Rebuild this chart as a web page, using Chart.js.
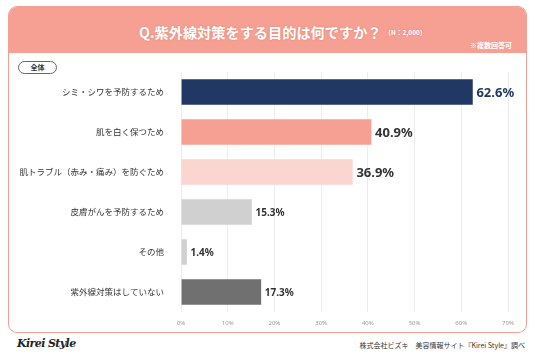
<!DOCTYPE html>
<html><head><meta charset="utf-8">
<script src="https://cdn.jsdelivr.net/npm/chart.js@4/dist/chart.umd.min.js"></script>
<style>
html,body{margin:0;padding:0;background:#fff;}
body{width:536px;height:357px;position:relative;overflow:hidden;font-family:"Noto Sans CJK JP","Noto Sans",sans-serif;}
#frame{position:absolute;left:8px;top:6px;width:517px;height:325px;border:1.5px solid #f4a093;border-radius:9px;overflow:hidden;}
#head{position:absolute;left:0;top:0;right:0;height:46px;background:#f6a093;}
#title{position:absolute;left:130px;top:15px;color:#fff;font-weight:bold;font-size:14.2px;line-height:20px;text-shadow:0 0 2px rgba(180,80,60,0.35);white-space:nowrap;}
#title span{font-size:6.5px;font-weight:bold;margin-left:3px;vertical-align:3px;}
#multi{position:absolute;right:14px;top:33px;color:#fff;font-size:7px;font-weight:bold;}
#pill{position:absolute;left:18px;top:61px;width:37px;height:11px;border:1px solid #666;border-radius:7px;text-align:center;font-size:7px;font-weight:bold;line-height:11px;color:#333;}
#logo{position:absolute;left:17px;top:337px;font-family:"DejaVu Serif",serif;font-style:italic;font-weight:bold;font-size:11px;color:#222;letter-spacing:-0.6px;}
#src{position:absolute;right:11px;top:340px;font-size:7px;color:#333;}
canvas{position:absolute;left:0;top:0;}
</style></head><body>
<div id="frame"><div id="head"><div id="title">Q.紫外線対策をする目的は何ですか？<span>（N：2,000）</span></div><div id="multi">※複数回答可</div></div></div>
<div id="pill">全体</div>
<div id="logo">Kirei Style</div>
<div id="src">株式会社ビズキ　美容情報サイト『Kirei Style』調べ</div>
<canvas id="c" width="536" height="357"></canvas>
<script>
const categories = ["シミ・シワを予防するため","肌を白く保つため","肌トラブル（赤み・痛み）を防ぐため","皮膚がんを予防するため","その他","紫外線対策はしていない"];
const values = [62.6, 40.9, 36.9, 15.3, 1.4, 17.3];
const barColors = ["#213864","#f6a093","#fbd5d0","#d0d0d0","#d0d0d0","#707070"];
const labelColors = ["#213864","#333333","#333333","#333333","#333333","#333333"];
const xTicks = [0,10,20,30,40,50,60,70];

const valueLabels = {
  id:'valueLabels',
  afterDatasetsDraw(chart){
    const ctx = chart.ctx;
    const meta = chart.getDatasetMeta(0);
    meta.data.forEach((bar,i)=>{
      const big = i < 3;
      ctx.save();
      ctx.font = (big ? 'bold 13px' : 'bold 10px') + ' "Noto Sans","Noto Sans CJK JP",sans-serif';
      ctx.fillStyle = labelColors[i];
      ctx.textBaseline = 'middle';
      ctx.textAlign = 'left';
      ctx.fillText(values[i].toFixed(1) + '%', bar.x + 3, bar.y + 1);
      ctx.restore();
    });
  }
};

new Chart(document.getElementById('c'), {
  type:'bar',
  data:{labels:categories,datasets:[{data:values,backgroundColor:barColors,borderColor:'rgba(255,255,255,0.5)',borderWidth:1,barThickness:27}]},
  options:{
    indexAxis:'y',responsive:false,animation:false,
    layout:{padding:{left:8,top:72,right:28,bottom:25}},
    plugins:{legend:{display:false},tooltip:{enabled:false}},
    scales:{
      x:{min:0,max:70,
        afterBuildTicks(s){s.ticks = xTicks.map(v=>({value:v}));},
        afterFit(s){s.height=20;},
        grid:{color:'#ececec',drawTicks:false},border:{display:false},
        ticks:{padding:8,color:'#9a9a9a',font:{size:6,family:'"Noto Sans",sans-serif'},callback:v=>v+'%'}},
      y:{afterFit(s){s.width=173;},
        grid:{display:false},border:{display:false},
        ticks:{padding:9,color:'#333',font:{size:8.5,family:'"Noto Sans CJK JP",sans-serif'}}}
    }
  },
  plugins:[valueLabels]
});
</script>
</body></html>
